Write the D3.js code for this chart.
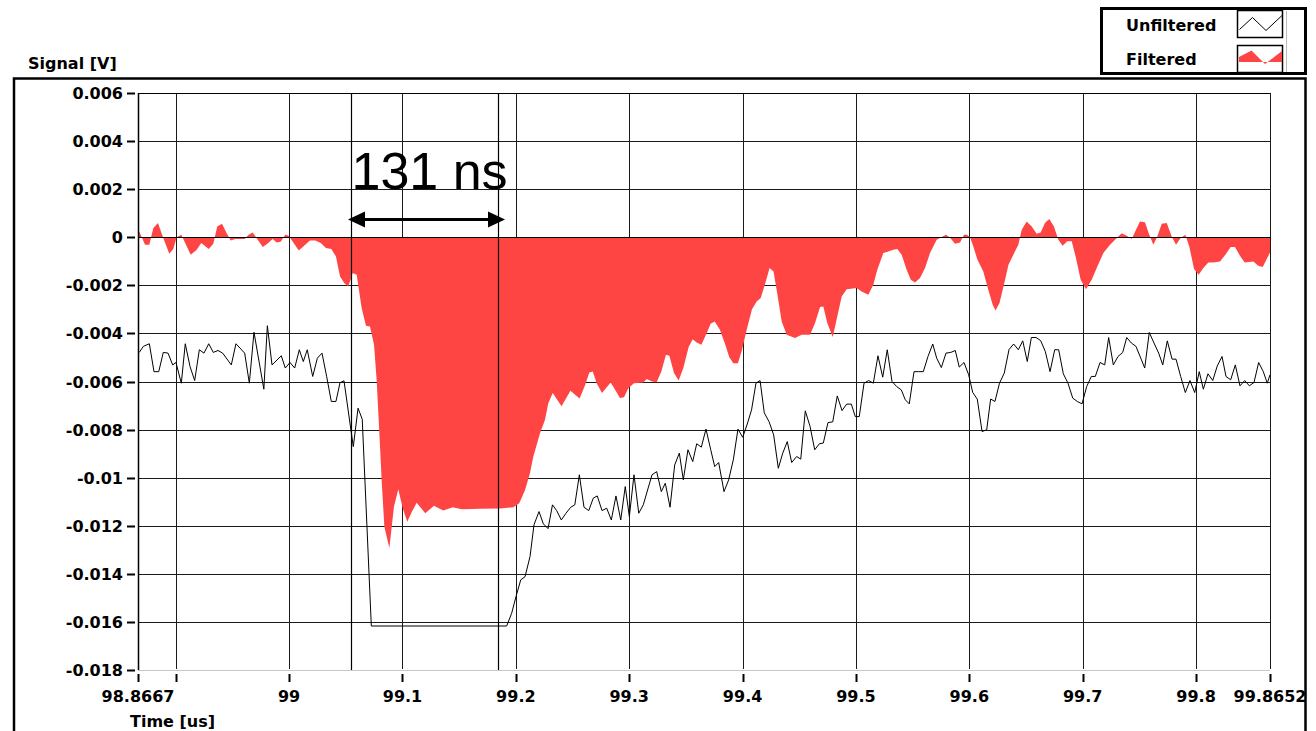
<!DOCTYPE html>
<html>
<head>
<meta charset="utf-8">
<script src="https://cdn.jsdelivr.net/npm/d3@7"></script>
<style>
  html, body { margin: 0; padding: 0; background: #fff; overflow: hidden; }
  svg { display: block; }
  .lbl { font-family: "DejaVu Sans", Verdana, sans-serif; font-weight: bold; font-size: 16px; fill: #000; }
</style>
</head>
<body>
<svg id="chart" width="1316" height="731"></svg>
<script>
// ---------------- DATA ----------------
const xDomain = [98.8667, 99.8652];
const yDomain = [-0.018, 0.006];

const xTickValues = [98.8667, 98.9, 99.0, 99.1, 99.2, 99.3, 99.4, 99.5, 99.6, 99.7, 99.8, 99.8652];
const xTickLabels = ["98.8667", "", "99", "99.1", "99.2", "99.3", "99.4", "99.5", "99.6", "99.7", "99.8", "99.8652"];

const yTickValues = [0.006, 0.004, 0.002, 0, -0.002, -0.004, -0.006, -0.008, -0.01, -0.012, -0.014, -0.016, -0.018];
const yTickLabels = ["0.006", "0.004", "0.002", "0", "-0.002", "-0.004", "-0.006", "-0.008", "-0.01", "-0.012", "-0.014", "-0.016", "-0.018"];

const xTitle = "Time [us]";
const yTitle = "Signal [V]";
const seriesNames = ["Unfiltered", "Filtered"];

const cursorTimes = [99.0543, 99.1846];
const cursorLabel = "131 ns";

const unfilteredTime = [
98.8678,98.8714,98.8767,98.8808,98.8850,98.8890,98.8932,98.8973,98.9002,98.9049,
98.9084,98.9126,98.9167,98.9208,98.9249,98.9291,98.9331,98.9373,98.9414,98.9490,
98.9531,98.9608,98.9649,98.9690,98.9777,98.9808,98.9849,98.9931,98.9966,99.0008,
99.0049,99.0090,99.0125,99.0160,99.0208,99.0249,99.0290,99.0331,99.0372,99.0413,
99.0449,99.0484,99.0566,99.0608,99.0645,99.0725,99.1919,99.1963,99.2001,99.2043,
99.2081,99.2125,99.2160,99.2204,99.2242,99.2284,99.2323,99.2360,99.2401,99.2442,
99.2484,99.2520,99.2560,99.2601,99.2643,99.2683,99.2718,99.2760,99.2801,99.2842,
99.2883,99.2925,99.2965,99.3001,99.3042,99.3084,99.3124,99.3201,99.3242,99.3283,
99.3318,99.3360,99.3401,99.3442,99.3477,99.3518,99.3560,99.3595,99.3636,99.3677,
99.3719,99.3754,99.3789,99.3836,99.3877,99.3918,99.3959,99.4001,99.4041,99.4079,
99.4118,99.4154,99.4191,99.4233,99.4274,99.4315,99.4354,99.4394,99.4433,99.4477,
99.4513,99.4553,99.4595,99.4636,99.4677,99.4712,99.4753,99.4795,99.4835,99.4877,
99.4918,99.4959,99.4994,99.5029,99.5071,99.5112,99.5153,99.5194,99.5236,99.5276,
99.5318,99.5359,99.5400,99.5435,99.5470,99.5512,99.5553,99.5594,99.5635,99.5677,
99.5712,99.5753,99.5794,99.5836,99.5876,99.5911,99.5953,99.5994,99.6030,99.6070,
99.6112,99.6153,99.6188,99.6226,99.6266,99.6308,99.6350,99.6391,99.6432,99.6471,
99.6511,99.6547,99.6588,99.6629,99.6670,99.6712,99.6753,99.6788,99.6829,99.6870,
99.6912,99.6952,99.6994,99.7035,99.7076,99.7111,99.7153,99.7194,99.7229,99.7270,
99.7311,99.7353,99.7388,99.7429,99.7470,99.7512,99.7547,99.7587,99.7629,99.7670,
99.7706,99.7746,99.7788,99.7823,99.7864,99.7905,99.7946,99.7988,99.8028,99.8064,
99.8105,99.8147,99.8187,99.8229,99.8264,99.8305,99.8346,99.8387,99.8429,99.8470,
99.8511,99.8552,99.8593,99.8628,99.8652
];
const unfilteredValue = [
-0.00479,-0.00454,-0.00443,-0.00559,-0.00559,-0.00479,-0.00482,-0.00531,-0.00521,-0.00607,
-0.00443,-0.00538,-0.00596,-0.00468,-0.00482,-0.00443,-0.00479,-0.00471,-0.00482,-0.00531,
-0.00443,-0.00482,-0.00607,-0.00395,-0.00632,-0.00368,-0.00531,-0.00493,-0.00544,-0.00521,
-0.00544,-0.00468,-0.00517,-0.00468,-0.00579,-0.00503,-0.00482,-0.00579,-0.00683,-0.00683,
-0.00605,-0.00597,-0.00871,-0.00711,-0.00757,-0.01617,-0.01617,-0.01564,-0.01495,-0.01425,
-0.01412,-0.01328,-0.01196,-0.01141,-0.01192,-0.01212,-0.01113,-0.01137,-0.01176,-0.01148,
-0.01123,-0.01113,-0.00988,-0.01123,-0.01137,-0.01085,-0.01076,-0.01137,-0.01127,-0.01176,
-0.01076,-0.01176,-0.01037,-0.01162,-0.00988,-0.01148,-0.01113,-0.00988,-0.00975,-0.01058,
-0.01023,-0.01123,-0.00947,-0.00898,-0.01009,-0.00884,-0.00933,-0.00859,-0.00873,-0.00798,
-0.00884,-0.00954,-0.00937,-0.01058,-0.01009,-0.00926,-0.00798,-0.00832,-0.00777,-0.00718,
-0.00607,-0.00596,-0.00730,-0.00767,-0.00822,-0.00961,-0.00898,-0.00850,-0.00937,-0.00912,
-0.00923,-0.00722,-0.00787,-0.00884,-0.00859,-0.00856,-0.00771,-0.00768,-0.00660,-0.00721,
-0.00694,-0.00694,-0.00746,-0.00746,-0.00607,-0.00596,-0.00607,-0.00493,-0.00582,-0.00468,
-0.00600,-0.00621,-0.00635,-0.00676,-0.00693,-0.00559,-0.00559,-0.00559,-0.00496,-0.00444,
-0.00503,-0.00542,-0.00482,-0.00479,-0.00471,-0.00540,-0.00521,-0.00572,-0.00646,-0.00673,
-0.00808,-0.00801,-0.00673,-0.00683,-0.00607,-0.00565,-0.00467,-0.00444,-0.00468,-0.00431,
-0.00517,-0.00417,-0.00417,-0.00430,-0.00475,-0.00559,-0.00468,-0.00468,-0.00568,-0.00607,
-0.00669,-0.00683,-0.00693,-0.00621,-0.00579,-0.00579,-0.00521,-0.00531,-0.00417,-0.00531,
-0.00496,-0.00479,-0.00417,-0.00440,-0.00454,-0.00503,-0.00544,-0.00396,-0.00440,-0.00482,
-0.00531,-0.00431,-0.00507,-0.00507,-0.00579,-0.00646,-0.00596,-0.00646,-0.00559,-0.00632,
-0.00568,-0.00596,-0.00535,-0.00496,-0.00579,-0.00593,-0.00531,-0.00618,-0.00596,-0.00618,
-0.00604,-0.00521,-0.00559,-0.00607,-0.00572
];

const filteredTime = [
98.8667,98.8678,98.8729,98.8767,98.8802,98.8843,98.8885,98.8943,98.8978,98.9008,98.9049,
98.9132,98.9185,98.9225,98.9291,98.9331,98.9366,98.9408,98.9449,98.9485,98.9525,
98.9608,98.9643,98.9679,98.9767,98.9808,98.9855,98.9890,98.9926,98.9966,98.9996,
99.0037,99.0085,99.0125,99.0184,99.0231,99.0279,99.0325,99.0372,99.0413,99.0449,
99.0488,99.0522,99.0561,99.0596,99.0640,99.0678,99.0713,99.0749,99.0772,99.0802,
99.0816,99.0840,99.0884,99.0925,99.0963,99.1002,99.1042,99.1084,99.1125,99.1201,
99.1278,99.1360,99.1443,99.1522,99.1684,99.1860,99.1977,99.2030,99.2081,99.2125,
99.2154,99.2213,99.2257,99.2286,99.2325,99.2403,99.2481,99.2562,99.2612,99.2648,
99.2678,99.2713,99.2760,99.2836,99.2877,99.2918,99.2954,99.2992,99.3042,99.3124,
99.3154,99.3201,99.3242,99.3283,99.3324,99.3354,99.3395,99.3436,99.3477,99.3524,
99.3560,99.3595,99.3636,99.3683,99.3718,99.3754,99.3800,99.3842,99.3883,99.3918,
99.3959,99.3995,99.4036,99.4083,99.4124,99.4160,99.4200,99.4238,99.4273,99.4306,
99.4345,99.4389,99.4462,99.4521,99.4595,99.4639,99.4683,99.4712,99.4747,99.4795,
99.4835,99.4874,99.4918,99.5006,99.5050,99.5109,99.5153,99.5188,99.5241,99.5285,
99.5329,99.5365,99.5403,99.5447,99.5483,99.5521,99.5565,99.5609,99.5653,99.5712,
99.5765,99.5794,99.5830,99.5874,99.5918,99.5953,99.5977,99.6006,99.6035,99.6070,
99.6123,99.6167,99.6206,99.6231,99.6266,99.6308,99.6345,99.6388,99.6432,99.6462,
99.6506,99.6550,99.6594,99.6629,99.6667,99.6705,99.6746,99.6785,99.6823,99.6864,
99.6903,99.6941,99.6982,99.7029,99.7079,99.7129,99.7182,99.7241,99.7285,99.7344,
99.7388,99.7432,99.7470,99.7505,99.7549,99.7587,99.7623,99.7658,99.7697,99.7741,
99.7785,99.7823,99.7864,99.7905,99.7940,99.7982,99.8023,99.8064,99.8108,99.8152,
99.8211,99.8258,99.8305,99.8343,99.8387,99.8429,99.8505,99.8549,99.8588,99.8652
];
const filteredValue = [
0.00010,0.00024,-0.00031,-0.00031,0.00038,0.00059,0.00003,-0.00069,-0.00049,0.00000,0.00010,
-0.00073,-0.00052,-0.00024,-0.00049,-0.00027,0.00045,0.00056,0.00017,-0.00013,-0.00007,
-0.00007,0.00010,0.00020,-0.00041,-0.00027,-0.00007,-0.00022,-0.00019,0.00010,0.00006,
-0.00022,-0.00055,-0.00038,-0.00013,-0.00013,-0.00024,-0.00045,-0.00049,-0.00080,-0.00163,
-0.00191,-0.00205,-0.00149,-0.00156,-0.00295,-0.00368,-0.00371,-0.00447,-0.00593,-0.00871,
-0.01009,-0.01204,-0.01293,-0.01120,-0.01048,-0.01127,-0.01183,-0.01141,-0.01104,-0.01148,
-0.01117,-0.01137,-0.01123,-0.01131,-0.01129,-0.01128,-0.01123,-0.01106,-0.01051,-0.00981,
-0.00912,-0.00815,-0.00759,-0.00690,-0.00648,-0.00703,-0.00638,-0.00671,-0.00614,-0.00563,
-0.00558,-0.00607,-0.00648,-0.00604,-0.00635,-0.00669,-0.00665,-0.00628,-0.00607,-0.00604,
-0.00590,-0.00600,-0.00603,-0.00558,-0.00489,-0.00493,-0.00565,-0.00596,-0.00544,-0.00457,
-0.00424,-0.00438,-0.00447,-0.00399,-0.00360,-0.00350,-0.00385,-0.00440,-0.00499,-0.00524,
-0.00524,-0.00468,-0.00385,-0.00299,-0.00267,-0.00253,-0.00191,-0.00128,-0.00142,-0.00235,
-0.00350,-0.00406,-0.00419,-0.00406,-0.00406,-0.00357,-0.00290,-0.00288,-0.00357,-0.00415,
-0.00330,-0.00246,-0.00216,-0.00211,-0.00226,-0.00239,-0.00198,-0.00135,-0.00066,-0.00059,
-0.00052,-0.00049,-0.00073,-0.00135,-0.00177,-0.00188,-0.00170,-0.00128,-0.00066,-0.00010,
0.00003,0.00010,-0.00002,-0.00027,-0.00022,0.00010,0.00010,0.00001,-0.00038,-0.00091,
-0.00142,-0.00218,-0.00281,-0.00305,-0.00274,-0.00191,-0.00114,-0.00073,-0.00031,0.00031,
0.00066,0.00045,0.00015,0.00020,0.00059,0.00076,0.00045,-0.00010,-0.00035,-0.00017,
-0.00017,-0.00087,-0.00177,-0.00216,-0.00177,-0.00122,-0.00066,-0.00031,-0.00010,0.00017,
0.00006,-0.00007,0.00031,0.00066,0.00062,0.00010,-0.00031,0.00003,0.00056,0.00059,
0.00003,-0.00031,-0.00003,0.00010,-0.00038,-0.00132,-0.00156,-0.00128,-0.00105,-0.00105,
-0.00101,-0.00073,-0.00041,-0.00041,-0.00077,-0.00105,-0.00101,-0.00119,-0.00124,-0.00063
];

// ---------------- CHART ----------------
const svg = d3.select("#chart");
const plot = { left: 138, right: 1270, top: 93, bottom: 670 };

const x = d3.scaleLinear().domain(xDomain).range([plot.left, plot.right]);
const y = d3.scaleLinear().domain(yDomain).range([plot.bottom, plot.top]);
const px = v => Math.round(x(v)) + 0.5;
const py = v => Math.round(y(v)) + 0.5;

svg.append("rect").attr("width", 1316).attr("height", 731).attr("fill", "#fff");

svg.append("defs").append("clipPath").attr("id", "clip")
  .append("rect").attr("x", plot.left).attr("y", plot.top)
  .attr("width", plot.right - plot.left).attr("height", plot.bottom - plot.top);

// gridlines
const grid = svg.append("g");
grid.selectAll("line.h").data(yTickValues).enter().append("line")
  .attr("x1", plot.left).attr("x2", plot.right)
  .attr("y1", d => py(d)).attr("y2", d => py(d))
  .attr("stroke", d => d === -0.018 ? "#c8c8c8" : "#1a1a1a").attr("stroke-width", 1);
grid.selectAll("line.v").data(xTickValues).enter().append("line")
  .attr("x1", d => px(d)).attr("x2", d => px(d))
  .attr("y1", plot.top).attr("y2", plot.bottom - 1)
  .attr("stroke", "#1a1a1a").attr("stroke-width", 1);

const filtered = filteredTime.map((t, i) => ({ t, v: filteredValue[i] }));
const unfiltered = unfilteredTime.map((t, i) => ({ t, v: unfilteredValue[i] }));

const g = svg.append("g").attr("clip-path", "url(#clip)");
g.append("path").datum(filtered)
  .attr("fill", "#ff4444")
  .attr("d", d3.area().x(d => x(d.t)).y0(y(0)).y1(d => y(d.v)));

// zero line over fill
g.append("line").attr("x1", plot.left).attr("x2", plot.right)
  .attr("y1", py(0)).attr("y2", py(0)).attr("stroke", "#000").attr("stroke-width", 1.2);

g.append("path").datum(unfiltered)
  .attr("fill", "none").attr("stroke", "#000").attr("stroke-width", 1)
  .attr("stroke-linejoin", "miter")
  .attr("d", d3.line().x(d => x(d.t)).y(d => y(d.v)));

// cursors
svg.selectAll("line.cur").data(cursorTimes).enter().append("line")
  .attr("x1", d => px(d)).attr("x2", d => px(d))
  .attr("y1", plot.top).attr("y2", plot.bottom)
  .attr("stroke", "#000").attr("stroke-width", 1.2);

// plot border left/top
svg.append("line").attr("x1", plot.left + 0.5).attr("x2", plot.left + 0.5).attr("y1", plot.top).attr("y2", plot.bottom)
  .attr("stroke", "#000").attr("stroke-width", 1.5);
svg.append("line").attr("x1", plot.left).attr("x2", plot.right).attr("y1", plot.top + 0.5).attr("y2", plot.top + 0.5)
  .attr("stroke", "#000").attr("stroke-width", 1.2);

// y axis ticks + labels
const yAxis = svg.append("g");
yAxis.selectAll("line").data(yTickValues).enter().append("line")
  .attr("x1", plot.left - 11).attr("x2", plot.left - 3)
  .attr("y1", d => py(d)).attr("y2", d => py(d))
  .attr("stroke", "#000").attr("stroke-width", 2);
yAxis.selectAll("text").data(yTickValues).enter().append("text")
  .attr("class", "lbl").attr("text-anchor", "end")
  .attr("x", plot.left - 15).attr("y", d => y(d) + 6)
  .text((d, i) => yTickLabels[i]);

// x axis ticks + labels
const xAxis = svg.append("g");
xAxis.selectAll("line").data(xTickValues).enter().append("line")
  .attr("x1", d => px(d)).attr("x2", d => px(d))
  .attr("y1", plot.bottom + 4).attr("y2", plot.bottom + 12)
  .attr("stroke", "#000").attr("stroke-width", 2);
xAxis.selectAll("text").data(xTickValues).enter().append("text")
  .attr("class", "lbl").attr("text-anchor", "middle")
  .attr("x", d => x(d)).attr("y", plot.bottom + 32)
  .text((d, i) => xTickLabels[i]);

svg.append("text").attr("class", "lbl").attr("x", 130).attr("y", 727).text(xTitle);
svg.append("text").attr("class", "lbl").attr("x", 28).attr("y", 69).text(yTitle);

// 131 ns annotation
const ax0 = x(cursorTimes[0]) - 2.7, ax1 = x(cursorTimes[1]) + 6.6, ay = 219.5;
svg.append("line").attr("x1", ax0 + 10).attr("x2", ax1 - 10).attr("y1", ay).attr("y2", ay)
  .attr("stroke", "#000").attr("stroke-width", 3);
svg.append("path").attr("fill", "#000")
  .attr("d", `M${ax0},${ay} L${ax0 + 17},${ay - 8} L${ax0 + 17},${ay + 8} Z`);
svg.append("path").attr("fill", "#000")
  .attr("d", `M${ax1},${ay} L${ax1 - 17},${ay - 8} L${ax1 - 17},${ay + 8} Z`);
svg.append("text").attr("x", ax0 + 3.5).attr("y", 189)
  .attr("font-family", "'Liberation Sans', Arial, sans-serif").attr("font-size", 52)
  .attr("fill", "#000").text(cursorLabel);

// outer frame
svg.append("rect").attr("x", 14).attr("y", 78.5).attr("width", 1291.5).attr("height", 700)
  .attr("fill", "none").attr("stroke", "#000").attr("stroke-width", 2.5);

// legend
const lg = svg.append("g");
lg.append("rect").attr("x", 1101.5).attr("y", 8.5).attr("width", 204).attr("height", 65)
  .attr("fill", "#fff").attr("stroke", "#000").attr("stroke-width", 3);
lg.append("line").attr("x1", 1286.5).attr("x2", 1286.5).attr("y1", 11).attr("y2", 72)
  .attr("stroke", "#bbb").attr("stroke-width", 1);
lg.append("text").attr("class", "lbl").attr("x", 1126).attr("y", 31).text(seriesNames[0]);
lg.append("text").attr("class", "lbl").attr("x", 1126).attr("y", 65).text(seriesNames[1]);
lg.append("rect").attr("x", 1237.5).attr("y", 10.5).attr("width", 45).attr("height", 27)
  .attr("fill", "#fff").attr("stroke", "#000").attr("stroke-width", 1.5);
lg.append("rect").attr("x", 1237.5).attr("y", 45.5).attr("width", 45).attr("height", 27)
  .attr("fill", "#fff").attr("stroke", "#000").attr("stroke-width", 1.5);
lg.append("path").attr("fill", "none").attr("stroke", "#000").attr("stroke-width", 1)
  .attr("d", "M1239.5,29.5 L1252.5,17.5 L1266,30.5 L1282,15.5");
lg.append("path").attr("fill", "#ff4444")
  .attr("d", "M1239,62 L1239,57 L1251.5,50.5 L1265,64 L1282,51 L1282,62 Z");
</script>
</body>
</html>
